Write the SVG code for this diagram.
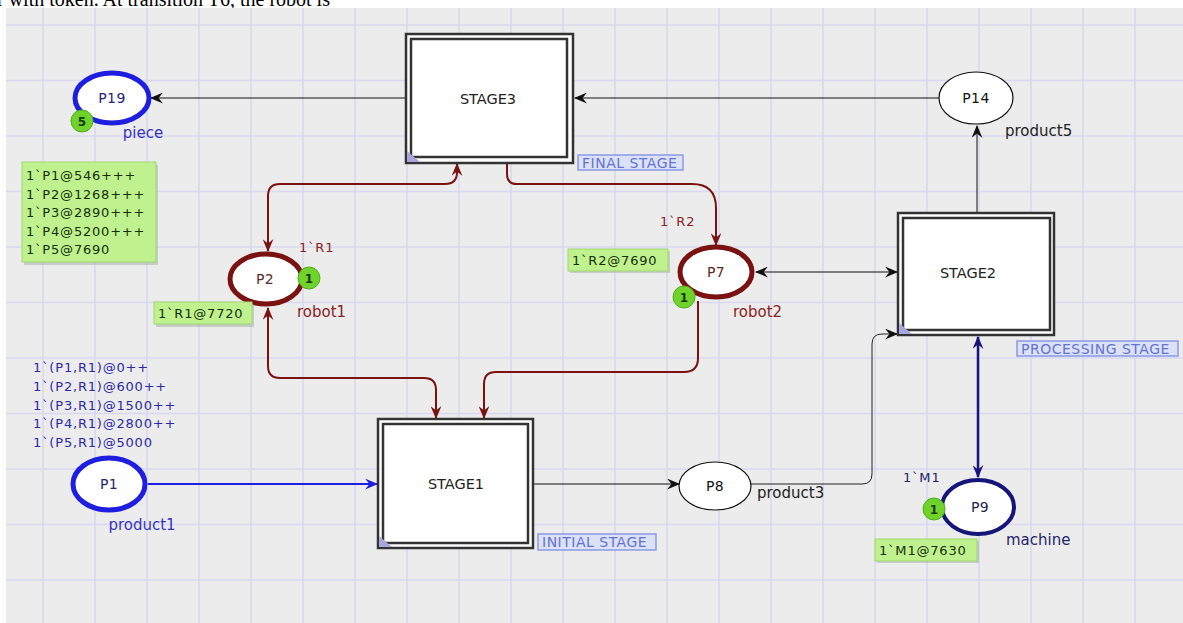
<svg xmlns="http://www.w3.org/2000/svg" width="1183" height="623" viewBox="0 0 1183 623">
<defs>
<style>
.grid line{stroke:#d9d8f2;stroke-width:1.6}
.t{font-family:"DejaVu Sans","Liberation Sans",sans-serif;font-size:14px;letter-spacing:0.4px}
.n{font-family:"DejaVu Sans","Liberation Sans",sans-serif;font-size:15px}
.lbl{font-family:"DejaVu Sans","Liberation Sans",sans-serif;font-size:13px;letter-spacing:0.8px}
.trans-o{fill:#fff;stroke:#333;stroke-width:2.5}
.trans-i{fill:#fff;stroke:#333;stroke-width:2.5}
.corner{fill:#a8a6dc}
.stage{font-family:"DejaVu Sans","Liberation Sans",sans-serif;font-size:14.5px;fill:#222;text-anchor:middle}
.tag rect{fill:#dbe2f8;stroke:#8a98e4;stroke-width:1.5}
.tag text{font-family:"DejaVu Sans","Liberation Sans",sans-serif;font-size:14px;fill:#6472d4;letter-spacing:0.5px}
.tok circle{fill:#6fd32c;stroke:#4fae1c;stroke-width:1}
.tok text{font-family:"DejaVu Sans","Liberation Sans",sans-serif;font-size:12px;fill:#1a3a0a;text-anchor:middle;font-weight:bold}
.gbox rect.b{fill:#bff28e;stroke:#9fd672;stroke-width:1}
.gbox rect.s{fill:#9aa79a;opacity:0.45}
.gbox text{font-family:"DejaVu Sans","Liberation Sans",sans-serif;font-size:13px;fill:#16300a;letter-spacing:0.8px}
.arc{fill:none}
</style>
<marker id="aK" viewBox="0 0 12 10" refX="11" refY="5" markerWidth="13" markerHeight="11" markerUnits="userSpaceOnUse" orient="auto-start-reverse"><path d="M0,0 L12,5 L0,10 L4,5 z" fill="#111"/></marker>
<marker id="aB" viewBox="0 0 12 10" refX="11" refY="5" markerWidth="13" markerHeight="11" markerUnits="userSpaceOnUse" orient="auto-start-reverse"><path d="M0,0 L12,5 L0,10 L4,5 z" fill="#1e1ee0"/></marker>
<marker id="aM" viewBox="0 0 12 10" refX="11" refY="5" markerWidth="13" markerHeight="11" markerUnits="userSpaceOnUse" orient="auto-start-reverse"><path d="M0,0 L12,5 L0,10 L4,5 z" fill="#7a1212"/></marker>
<marker id="aN" viewBox="0 0 12 10" refX="11" refY="5" markerWidth="13" markerHeight="11" markerUnits="userSpaceOnUse" orient="auto-start-reverse"><path d="M0,0 L12,5 L0,10 L4,5 z" fill="#16167a"/></marker>
</defs>

<rect x="0" y="0" width="1183" height="623" fill="#ffffff"/>
<text x="-3" y="6" font-family="'Liberation Serif',serif" font-size="20" fill="#000">r with token. At transition T6, the robot is</text>
<rect x="6" y="8" width="1177" height="615" fill="#ececec"/>

<g class="grid">
<line x1="43" y1="8" x2="43" y2="623"/><line x1="95" y1="8" x2="95" y2="623"/><line x1="147" y1="8" x2="147" y2="623"/><line x1="199" y1="8" x2="199" y2="623"/><line x1="251" y1="8" x2="251" y2="623"/><line x1="303" y1="8" x2="303" y2="623"/><line x1="355" y1="8" x2="355" y2="623"/><line x1="407" y1="8" x2="407" y2="623"/><line x1="459" y1="8" x2="459" y2="623"/><line x1="511" y1="8" x2="511" y2="623"/><line x1="563" y1="8" x2="563" y2="623"/><line x1="615" y1="8" x2="615" y2="623"/><line x1="667" y1="8" x2="667" y2="623"/><line x1="719" y1="8" x2="719" y2="623"/><line x1="771" y1="8" x2="771" y2="623"/><line x1="823" y1="8" x2="823" y2="623"/><line x1="875" y1="8" x2="875" y2="623"/><line x1="927" y1="8" x2="927" y2="623"/><line x1="979" y1="8" x2="979" y2="623"/><line x1="1031" y1="8" x2="1031" y2="623"/><line x1="1083" y1="8" x2="1083" y2="623"/><line x1="1135" y1="8" x2="1135" y2="623"/>
<line x1="6" y1="25" x2="1183" y2="25"/><line x1="6" y1="80.5" x2="1183" y2="80.5"/><line x1="6" y1="136" x2="1183" y2="136"/><line x1="6" y1="191.5" x2="1183" y2="191.5"/><line x1="6" y1="247" x2="1183" y2="247"/><line x1="6" y1="302.5" x2="1183" y2="302.5"/><line x1="6" y1="358" x2="1183" y2="358"/><line x1="6" y1="413.5" x2="1183" y2="413.5"/><line x1="6" y1="469" x2="1183" y2="469"/><line x1="6" y1="524.5" x2="1183" y2="524.5"/><line x1="6" y1="580" x2="1183" y2="580"/>
</g>

<g id="connectors">
<line class="arc" x1="405" y1="98" x2="151" y2="98" stroke="#111" stroke-width="1" marker-end="url(#aK)"/>
<line class="arc" x1="939" y1="98" x2="575" y2="98" stroke="#111" stroke-width="1" marker-end="url(#aK)"/>
<line class="arc" x1="977" y1="212" x2="977" y2="126" stroke="#111" stroke-width="1" marker-end="url(#aK)"/>
<line class="arc" x1="534" y1="484" x2="679" y2="484" stroke="#111" stroke-width="1" marker-end="url(#aK)"/>
<path class="arc" d="M751,484 L862,484 Q872,484 872,474 L872,344 Q872,334 882,334 L897,334" stroke="#222" stroke-width="1" marker-end="url(#aK)"/>
<line class="arc" x1="756" y1="272" x2="897" y2="272" stroke="#111" stroke-width="1" marker-start="url(#aK)" marker-end="url(#aK)"/>
<line class="arc" x1="148" y1="484" x2="377" y2="484" stroke="#1e1ee0" stroke-width="2" marker-end="url(#aB)"/>
<line class="arc" x1="978" y1="337" x2="978" y2="477" stroke="#16167a" stroke-width="2.5" marker-start="url(#aN)" marker-end="url(#aN)"/>
<path class="arc" d="M268,251 L268,196 Q268,184 280,184 L445,184 Q457,184 457,172 L457,164" stroke="#7a1212" stroke-width="2" marker-start="url(#aM)" marker-end="url(#aM)"/>
<path class="arc" d="M507,163 L507,174 Q507,184 517,184 L692,184 Q716,184 716,208 L716,245" stroke="#7a1212" stroke-width="2" marker-end="url(#aM)"/>
<path class="arc" d="M268,308 L268,366 Q268,378 280,378 L424,378 Q436,378 436,390 L436,418" stroke="#7a1212" stroke-width="2" marker-start="url(#aM)" marker-end="url(#aM)"/>
<path class="arc" d="M698,301 L698,358 Q698,372 684,372 L496,372 Q484,372 484,384 L484,418" stroke="#7a1212" stroke-width="2" marker-end="url(#aM)"/>
</g>

<g id="P19">
<ellipse cx="112" cy="98" rx="37" ry="25" fill="#fff" stroke="#1e1ee0" stroke-width="5"/>
<text class="t" x="112" y="103" text-anchor="middle" fill="#24247a">P19</text>
<g class="tok"><circle cx="82" cy="121" r="11"/><text x="82" y="125.5">5</text></g>
<text class="n" x="143" y="138" text-anchor="middle" fill="#3434c4">piece</text>
</g>

<g id="P19-marking" class="gbox">
<rect class="s" x="24" y="165" width="134" height="100"/>
<rect class="b" x="22" y="162" width="134" height="100"/>
<text x="26" y="180">1`P1@546+++</text>
<text x="26" y="198.5">1`P2@1268+++</text>
<text x="26" y="217">1`P3@2890+++</text>
<text x="26" y="235.5">1`P4@5200+++</text>
<text x="26" y="254">1`P5@7690</text>
</g>

<g id="STAGE3">
<rect class="trans-o" x="406" y="34" width="167" height="129"/>
<rect class="trans-i" x="411" y="39" width="156" height="118"/>
<path class="corner" d="M407,151 L407,162 L420,162 z"/>
<text class="stage" x="488" y="104">STAGE3</text>
<g class="tag"><rect x="578" y="155" width="105" height="15"/><text x="582" y="168">FINAL STAGE</text></g>
</g>

<g id="P14">
<ellipse cx="976" cy="98" rx="37" ry="26" fill="#fff" stroke="#111" stroke-width="1.2"/>
<text class="t" x="976" y="103" text-anchor="middle" fill="#111">P14</text>
<text class="n" x="1005" y="136" fill="#222" font-size="14.5">product5</text>
</g>

<g id="P2">
<ellipse cx="266" cy="279" rx="36" ry="25" fill="#fff" stroke="#7a1212" stroke-width="5"/>
<text class="t" x="265" y="284" text-anchor="middle" fill="#5a2a2a">P2</text>
<g class="tok"><circle cx="309" cy="278" r="11"/><text x="309" y="282.5">1</text></g>
<text class="lbl" x="299" y="252" fill="#8a2222" font-size="13.5">1`R1</text>
<text class="n" x="297" y="317" fill="#8a2222">robot1</text>
<g class="gbox">
<rect class="s" x="156" y="304" width="98" height="23"/>
<rect class="b" x="154" y="302" width="98" height="22"/>
<text x="158" y="318">1`R1@7720</text>
</g>
</g>

<g id="P7">
<ellipse cx="716" cy="272" rx="36" ry="25" fill="#fff" stroke="#7a1212" stroke-width="5"/>
<text class="t" x="716" y="277" text-anchor="middle" fill="#5a2a2a">P7</text>
<g class="tok"><circle cx="684" cy="297" r="11"/><text x="684" y="301.5">1</text></g>
<text class="lbl" x="660" y="226" fill="#8a2222" font-size="13.5">1`R2</text>
<text class="n" x="733" y="317" fill="#8a2222">robot2</text>
<g class="gbox">
<rect class="s" x="570" y="251" width="100" height="22"/>
<rect class="b" x="568" y="249" width="100" height="22"/>
<text x="572" y="265">1`R2@7690</text>
</g>
</g>

<g id="STAGE2">
<rect class="trans-o" x="898" y="213" width="156" height="122"/>
<rect class="trans-i" x="903" y="218" width="147" height="112"/>
<path class="corner" d="M899,323 L899,334 L912,334 z"/>
<text class="stage" x="968" y="278">STAGE2</text>
<g class="tag"><rect x="1017" y="341" width="161" height="15"/><text x="1021" y="354">PROCESSING STAGE</text></g>
</g>

<g id="P1-marking">
<text class="lbl" x="33" y="372" fill="#2a2aa8">1`(P1,R1)@0++</text>
<text class="lbl" x="33" y="391" fill="#2a2aa8">1`(P2,R1)@600++</text>
<text class="lbl" x="33" y="409.5" fill="#2a2aa8">1`(P3,R1)@1500++</text>
<text class="lbl" x="33" y="428" fill="#2a2aa8">1`(P4,R1)@2800++</text>
<text class="lbl" x="33" y="446.5" fill="#2a2aa8">1`(P5,R1)@5000</text>
</g>

<g id="P1">
<ellipse cx="109" cy="484" rx="36" ry="26" fill="#fff" stroke="#1e1ee0" stroke-width="5"/>
<text class="t" x="109" y="489" text-anchor="middle" fill="#24247a">P1</text>
<text class="n" x="142" y="530" text-anchor="middle" fill="#3434c4">product1</text>
</g>

<g id="STAGE1">
<rect class="trans-o" x="378" y="419" width="155" height="129"/>
<rect class="trans-i" x="383" y="424" width="145" height="119"/>
<path class="corner" d="M379,536 L379,547 L392,547 z"/>
<text class="stage" x="456" y="489">STAGE1</text>
<g class="tag"><rect x="538" y="534" width="118" height="16"/><text x="542" y="547">INITIAL STAGE</text></g>
</g>

<g id="P8">
<ellipse cx="715" cy="486" rx="36" ry="24" fill="#fff" stroke="#111" stroke-width="1.2"/>
<text class="t" x="715" y="491" text-anchor="middle" fill="#111">P8</text>
<text class="n" x="757" y="498" fill="#222" font-size="14.5">product3</text>
</g>

<g id="P9">
<ellipse cx="978" cy="507" rx="36" ry="27" fill="#fff" stroke="#16167a" stroke-width="4"/>
<text class="t" x="980" y="512" text-anchor="middle" fill="#24244a">P9</text>
<g class="tok"><circle cx="934" cy="509" r="11"/><text x="934" y="513.5">1</text></g>
<text class="lbl" x="903" y="482" fill="#24246a" font-size="13.5">1`M1</text>
<text class="n" x="1006" y="545" fill="#24246a">machine</text>
<g class="gbox">
<rect class="s" x="877" y="541" width="102" height="22"/>
<rect class="b" x="875" y="539" width="102" height="22"/>
<text x="879" y="555">1`M1@7630</text>
</g>
</g>
</svg>
